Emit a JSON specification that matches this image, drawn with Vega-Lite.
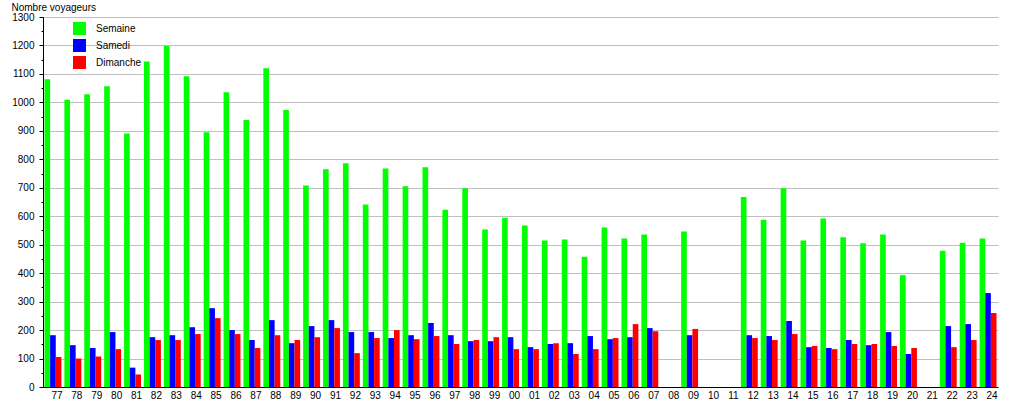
{
  "$schema": "https://vega.github.io/schema/vega-lite/v6.json",
  "width": 955,
  "height": 370,
  "autosize": {"type": "none"},
  "padding": {"left": 43, "top": 17, "right": 17, "bottom": 13},
  "background": "white",
  "config": {
    "font": "Liberation Sans",
    "view": {"stroke": null},
    "axis": {"labelFont": "Liberation Sans", "titleFont": "Liberation Sans", "labelColor": "black", "titleColor": "black"},
    "legend": {"labelFont": "Liberation Sans"}
  },
  "data": {
    "values": [
      {"annee": "77", "Semaine": 1081, "Samedi": 182, "Dimanche": 105},
      {"annee": "78", "Semaine": 1009, "Samedi": 147, "Dimanche": 100},
      {"annee": "79", "Semaine": 1029, "Samedi": 137, "Dimanche": 107},
      {"annee": "80", "Semaine": 1057, "Samedi": 193, "Dimanche": 133},
      {"annee": "81", "Semaine": 891, "Samedi": 68, "Dimanche": 44},
      {"annee": "82", "Semaine": 1144, "Samedi": 175, "Dimanche": 165},
      {"annee": "83", "Semaine": 1198, "Samedi": 182, "Dimanche": 165},
      {"annee": "84", "Semaine": 1092, "Samedi": 210, "Dimanche": 186},
      {"annee": "85", "Semaine": 895, "Samedi": 277, "Dimanche": 242},
      {"annee": "86", "Semaine": 1036, "Samedi": 200, "Dimanche": 186},
      {"annee": "87", "Semaine": 938, "Samedi": 165, "Dimanche": 137},
      {"annee": "88", "Semaine": 1120, "Samedi": 235, "Dimanche": 182},
      {"annee": "89", "Semaine": 973, "Samedi": 154, "Dimanche": 165},
      {"annee": "90", "Semaine": 708, "Samedi": 214, "Dimanche": 175},
      {"annee": "91", "Semaine": 765, "Samedi": 235, "Dimanche": 207},
      {"annee": "92", "Semaine": 786, "Samedi": 193, "Dimanche": 119},
      {"annee": "93", "Semaine": 641, "Samedi": 193, "Dimanche": 172},
      {"annee": "94", "Semaine": 768, "Samedi": 172, "Dimanche": 200},
      {"annee": "95", "Semaine": 705, "Samedi": 182, "Dimanche": 168},
      {"annee": "96", "Semaine": 772, "Samedi": 225, "Dimanche": 179},
      {"annee": "97", "Semaine": 623, "Samedi": 182, "Dimanche": 151},
      {"annee": "98", "Semaine": 698, "Samedi": 161, "Dimanche": 165},
      {"annee": "99", "Semaine": 553, "Samedi": 161, "Dimanche": 175},
      {"annee": "00", "Semaine": 595, "Samedi": 175, "Dimanche": 133},
      {"annee": "01", "Semaine": 567, "Samedi": 140, "Dimanche": 133},
      {"annee": "02", "Semaine": 515, "Samedi": 151, "Dimanche": 154},
      {"annee": "03", "Semaine": 518, "Samedi": 154, "Dimanche": 116},
      {"annee": "04", "Semaine": 458, "Samedi": 179, "Dimanche": 133},
      {"annee": "05", "Semaine": 560, "Samedi": 168, "Dimanche": 172},
      {"annee": "06", "Semaine": 522, "Samedi": 175, "Dimanche": 221},
      {"annee": "07", "Semaine": 536, "Samedi": 207, "Dimanche": 196},
      {"annee": "09", "Semaine": 546, "Samedi": 182, "Dimanche": 204},
      {"annee": "12", "Semaine": 668, "Samedi": 182, "Dimanche": 172},
      {"annee": "13", "Semaine": 588, "Samedi": 179, "Dimanche": 165},
      {"annee": "14", "Semaine": 698, "Samedi": 232, "Dimanche": 186},
      {"annee": "15", "Semaine": 515, "Samedi": 140, "Dimanche": 144},
      {"annee": "16", "Semaine": 592, "Samedi": 137, "Dimanche": 133},
      {"annee": "17", "Semaine": 526, "Samedi": 165, "Dimanche": 151},
      {"annee": "18", "Semaine": 505, "Samedi": 147, "Dimanche": 151},
      {"annee": "19", "Semaine": 536, "Samedi": 193, "Dimanche": 144},
      {"annee": "20", "Semaine": 393, "Samedi": 116, "Dimanche": 137},
      {"annee": "22", "Semaine": 479, "Samedi": 214, "Dimanche": 140},
      {"annee": "23", "Semaine": 507, "Samedi": 221, "Dimanche": 165},
      {"annee": "24", "Semaine": 522, "Samedi": 330, "Dimanche": 260}
    ]
  },
  "transform": [
    {"fold": ["Semaine", "Samedi", "Dimanche"], "as": ["serie", "valeur"]}
  ],
  "encoding": {
    "x": {
      "field": "annee",
      "type": "nominal",
      "scale": {
        "domain": ["77","78","79","80","81","82","83","84","85","86","87","88","89","90","91","92","93","94","95","96","97","98","99","00","01","02","03","04","05","06","07","08","09","10","11","12","13","14","15","16","17","18","19","20","21","22","23","24"],
        "paddingInner": 0.15,
        "paddingOuter": 0.075
      },
      "axis": {
        "title": null,
        "labelAngle": 0,
        "labelFontSize": 10,
        "labelOffset": 4,
        "labelPadding": 3,
        "ticks": false,
        "domainColor": "black",
        "domainWidth": 1,
        "grid": false
      }
    }
  },
  "layer": [
    {
      "mark": {"type": "bar"},
      "encoding": {
        "xOffset": {"field": "serie", "type": "nominal", "scale": {"domain": ["Semaine", "Samedi", "Dimanche"]}},
        "y": {
          "field": "valeur",
          "type": "quantitative",
          "scale": {"domain": [0, 1300], "nice": false},
          "axis": {
            "values": [0,100,200,300,400,500,600,700,800,900,1000,1100,1200,1300],
            "format": "d",
            "title": "Nombre voyageurs",
            "titleAngle": 0,
            "titleAlign": "left",
            "titleBaseline": "alphabetic",
            "titleX": -32,
            "titleY": -7,
            "titleFontSize": 10,
            "titleFontWeight": "normal",
            "labelFontSize": 10,
            "labelPadding": 5,
            "tickSize": 4,
            "tickColor": "black",
            "domainColor": "black",
            "grid": true,
            "gridColor": "#c0c0c0",
            "gridWidth": 1,
            "orient": "left"
          }
        },
        "color": {
          "field": "serie",
          "type": "nominal",
          "scale": {"domain": ["Semaine", "Samedi", "Dimanche"], "range": ["#00ff00", "#0000ff", "#ff0000"]},
          "legend": {
            "title": null,
            "orient": "none",
            "legendX": 30,
            "legendY": 5,
            "padding": 0,
            "symbolType": "square",
            "symbolSize": 169,
            "symbolStrokeWidth": 0,
            "labelFontSize": 10,
            "labelOffset": 10,
            "rowPadding": 4,
            "labelColor": "black"
          }
        }
      }
    },
    {
      "mark": {"type": "rule", "opacity": 0},
      "encoding": {
        "y": {
          "field": "valeur",
          "type": "quantitative",
          "axis": {
            "orient": "left",
            "values": [50,150,250,350,450,550,650,750,850,950,1050,1150,1250],
            "labels": false,
            "domain": false,
            "grid": false,
            "title": null,
            "tickSize": 2,
            "tickColor": "black"
          }
        }
      }
    }
  ],
  "resolve": {"axis": {"y": "independent"}}
}
